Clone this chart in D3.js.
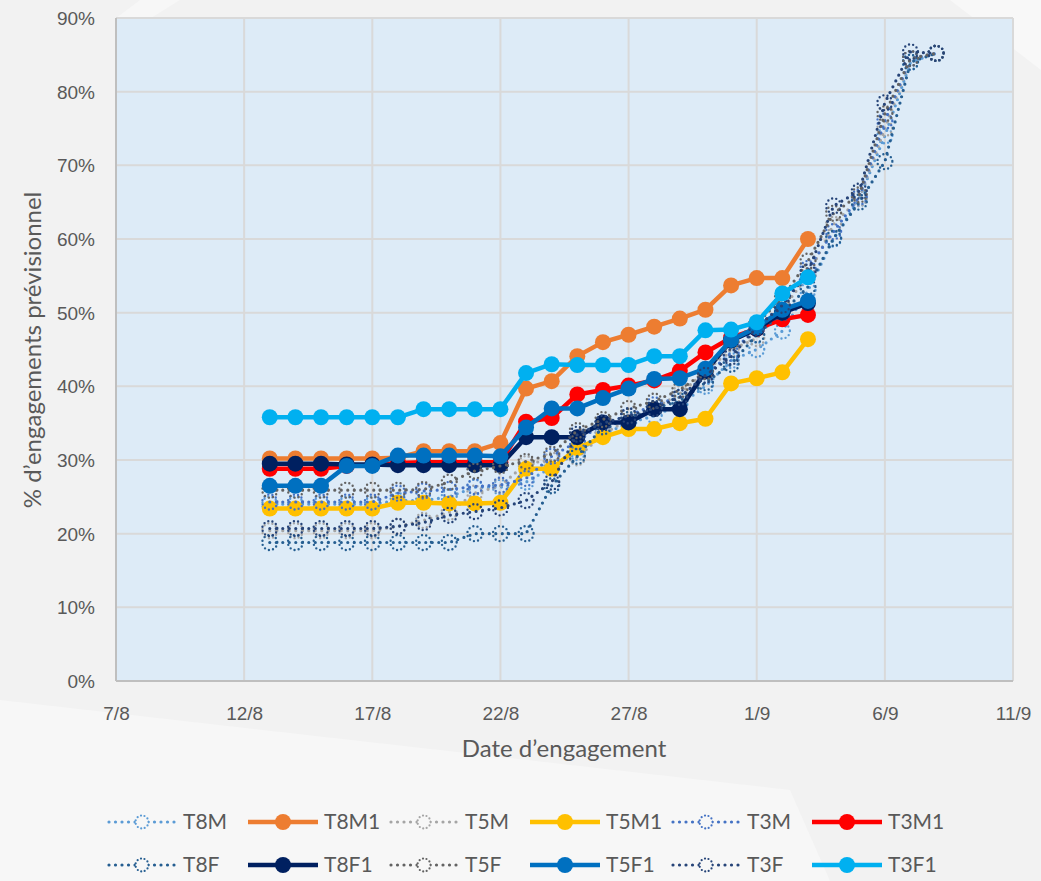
<!DOCTYPE html>
<html><head><meta charset="utf-8">
<script src="https://cdn.jsdelivr.net/npm/d3@7"></script>
<style>
html,body{margin:0;padding:0;background:#F2F2F2;}
svg{display:block;font-family:Lato,"Open Sans",sans-serif;}
</style></head>
<body>
<svg id="chart" width="1041" height="881"></svg>
<script>
// ---- data ----
const solidDates = ["13/8","14/8","15/8","16/8","17/8","18/8","19/8","20/8","21/8","22/8","23/8","24/8","25/8","26/8","27/8","28/8","29/8","30/8","31/8","1/9","2/9","3/9"];
const dottedDates = solidDates.concat(["4/9","5/9","6/9","7/9","8/9"]);
const xTickLabels = ["7/8","12/8","17/8","22/8","27/8","1/9","6/9","11/9"];
const yTickValues = [0,10,20,30,40,50,60,70,80,90];

const T8M  = [24.0,24.0,24.0,24.0,24.0,24.5,24.5,25.0,26.3,26.3,27.0,29.0,31.0,33.5,35.0,36.0,37.5,40.0,43.5,45.0,47.5,53.0,60.0,65.5,74.0,84.0,85.2];
const T8M1 = [30.2,30.2,30.2,30.2,30.2,30.3,31.2,31.2,31.2,32.3,39.7,40.7,44.1,46.0,47.0,48.1,49.2,50.4,53.7,54.7,54.7,60.0];
const T5M  = [20.4,20.4,20.4,20.4,20.4,21.0,21.8,22.9,25.5,26.5,29.5,30.0,30.3,33.5,35.5,37.0,39.0,42.0,45.0,46.5,50.5,55.0,62.0,65.5,75.0,84.5,85.2];
const T5M1 = [23.4,23.4,23.4,23.4,23.4,24.2,24.2,24.1,24.1,24.2,28.8,28.8,31.6,33.1,34.2,34.2,35.0,35.6,40.4,41.1,41.9,46.4];
const T3M  = [24.3,24.3,24.3,24.3,24.3,25.5,25.8,26.0,26.4,26.6,27.5,30.5,32.5,35.0,36.0,37.5,38.5,41.5,44.5,48.0,51.0,56.0,61.0,65.7,76.0,84.5,85.2];
const T3M1 = [28.8,28.8,28.8,29.2,29.3,29.6,29.7,29.7,29.7,29.7,35.2,35.7,38.9,39.5,40.1,40.8,42.1,44.6,46.6,47.8,49.1,49.7];
const T8F  = [18.8,18.8,18.8,18.8,18.8,18.8,18.8,18.8,20.0,20.0,20.0,26.5,30.5,34.5,35.5,37.0,38.0,40.5,43.0,47.0,50.0,53.5,60.1,65.0,70.5,84.0,85.2];
const T8F1 = [29.5,29.5,29.5,29.4,29.4,29.3,29.3,29.3,29.3,29.3,33.1,33.1,33.1,35.1,35.1,36.9,36.9,42.0,46.2,47.8,50.0,51.3];
const T5F  = [25.9,25.9,25.9,25.9,25.9,25.9,26.0,27.0,28.5,29.2,29.8,30.8,34.0,35.5,37.0,38.0,39.5,42.0,46.0,48.5,52.0,57.0,63.5,66.0,77.0,84.5,85.2];
const T5F1 = [26.5,26.5,26.5,29.2,29.2,30.6,30.6,30.6,30.6,30.5,34.4,37.0,37.0,38.4,39.7,41.0,41.1,42.4,46.3,48.0,50.4,51.6];
const T3F  = [20.7,20.7,20.7,20.7,20.7,21.0,21.5,22.5,23.0,23.5,24.5,27.0,33.5,35.0,36.0,37.0,38.5,41.5,44.0,48.0,51.0,55.5,64.5,66.5,78.5,85.4,85.2];
const T3F1 = [35.8,35.8,35.8,35.8,35.8,35.8,36.9,36.9,36.9,36.9,41.8,43.0,42.9,42.9,42.9,44.1,44.1,47.6,47.7,48.7,52.6,54.8];

const seriesNames  = ["T8M","T8M1","T5M","T5M1","T3M","T3M1","T8F","T8F1","T5F","T5F1","T3F","T3F1"];
const seriesValues = [T8M,T8M1,T5M,T5M1,T3M,T3M1,T8F,T8F1,T5F,T5F1,T3F,T3F1];
const seriesColors = ["#5B9BD5","#ED7D31","#A5A5A5","#FFC000","#4472C4","#FF0000","#255E91","#002060","#636363","#0070C0","#264478","#00B0F0"];
const seriesDotted = [true,false,true,false,true,false,true,false,true,false,true,false];

// ---- layout ----
const W = 1041, H = 881;
const plot = {left:116, right:1013, top:18, bottom:681};
const svg = d3.select("#chart");
const parse = s => { const [d,m] = s.split("/").map(Number); return new Date(Date.UTC(2020, m-1, d)); };

// decorative background shapes (subtle)
svg.append("rect").attr("width",W).attr("height",H).attr("fill","#F2F2F2");
svg.append("path").attr("d","M0,700 L790,790 L830,881 L0,881 Z").attr("fill","#F7F7F7");
svg.append("path").attr("d","M950,0 L1041,0 L1041,70 Z").attr("fill","#F8F8F8");
svg.append("path").attr("d","M140,0 L180,0 L116,40 L116,18 Z").attr("fill","#F7F7F7");

const x = d3.scaleUtc().domain([parse("7/8"), parse("11/9")]).range([plot.left, plot.right]);
const y = d3.scaleLinear().domain([0, 90]).range([plot.bottom, plot.top]);

// plot area
svg.append("rect").attr("x",plot.left).attr("y",plot.top)
  .attr("width",plot.right-plot.left).attr("height",plot.bottom-plot.top).attr("fill","#DDEBF7");

// gridlines
const xTicks = xTickLabels.map(parse);
svg.append("g").selectAll("line.v").data(xTicks).join("line")
  .attr("x1",d=>x(d)).attr("x2",d=>x(d)).attr("y1",plot.top).attr("y2",plot.bottom)
  .attr("stroke","#D9D9D9").attr("stroke-width",2);
svg.append("g").selectAll("line.h").data(yTickValues).join("line")
  .attr("x1",plot.left).attr("x2",plot.right).attr("y1",d=>y(d)).attr("y2",d=>y(d))
  .attr("stroke","#D9D9D9").attr("stroke-width",2);
// axis lines
svg.append("line").attr("x1",plot.left).attr("x2",plot.left).attr("y1",plot.top).attr("y2",plot.bottom)
  .attr("stroke","#BFBFBF").attr("stroke-width",2);
svg.append("line").attr("x1",plot.left).attr("x2",plot.right).attr("y1",plot.bottom).attr("y2",plot.bottom)
  .attr("stroke","#BFBFBF").attr("stroke-width",2);

// axes via d3
const yAxis = d3.axisLeft(y).tickValues(yTickValues).tickFormat(d=>d+"%").tickSize(0).tickPadding(21);
const gy = svg.append("g").attr("transform",`translate(${plot.left},0)`).call(yAxis);
gy.select(".domain").remove();
gy.selectAll("text").attr("fill","#595959").style("font-size","19px").attr("dy","0.35em");

const xAxis = d3.axisBottom(x).tickValues(xTicks).tickFormat((d,i)=>xTickLabels[i]).tickSize(0).tickPadding(26);
const gx = svg.append("g").attr("transform",`translate(0,${plot.bottom})`).call(xAxis);
gx.select(".domain").remove();
gx.selectAll("text").attr("fill","#595959").style("font-size","19px");

// axis titles
svg.append("text").attr("x",564).attr("y",757).attr("text-anchor","middle")
  .attr("fill","#595959").style("font-size","24px").text("Date d’engagement");
svg.append("text").attr("transform","translate(41,350) rotate(-90)").attr("text-anchor","middle")
  .attr("fill","#595959").style("font-size","24px").text("% d’engagements prévisionnel");

// series
const line = d3.line().x(d=>x(d.date)).y(d=>y(d.v));
seriesNames.forEach((name,i)=>{
  const dates = seriesDotted[i] ? dottedDates : solidDates;
  const pts = seriesValues[i].map((v,j)=>({date:parse(dates[j]), v}));
  const g = svg.append("g");
  const c = seriesColors[i];
  if (seriesDotted[i]) {
    g.append("path").datum(pts).attr("d",line).attr("fill","none").attr("stroke",c)
      .attr("stroke-width",3.2).attr("stroke-linecap","round").attr("stroke-dasharray","0,6.5");
    g.selectAll("circle").data(pts).join("circle").attr("cx",d=>x(d.date)).attr("cy",d=>y(d.v)).attr("r",7.5)
      .attr("fill","none").attr("stroke",c).attr("stroke-width",2.4).attr("stroke-linecap","round").attr("stroke-dasharray","0,4.2");
  } else {
    g.append("path").datum(pts).attr("d",line).attr("fill","none").attr("stroke",c)
      .attr("stroke-width",4.5).attr("stroke-linejoin","round");
    g.selectAll("circle").data(pts).join("circle").attr("cx",d=>x(d.date)).attr("cy",d=>y(d.v)).attr("r",8)
      .attr("fill",c);
  }
});

// legend
const legend = svg.append("g");
seriesNames.forEach((name,i)=>{
  const col = i % 6, row = Math.floor(i / 6);
  const lx = 107 + col*141, ly = 822 + row*43;
  const g = legend.append("g").attr("transform",`translate(${lx},${ly})`);
  const c = seriesColors[i];
  if (seriesDotted[i]) {
    g.append("line").attr("x1",2).attr("x2",68).attr("y1",0).attr("y2",0).attr("stroke",c)
      .attr("stroke-width",3.2).attr("stroke-linecap","round").attr("stroke-dasharray","0,6.5");
    g.append("circle").attr("cx",35).attr("cy",0).attr("r",6.5).attr("fill","#F7F7F7").attr("stroke",c)
      .attr("stroke-width",2.2).attr("stroke-linecap","round").attr("stroke-dasharray","0,3.6");
  } else {
    g.append("line").attr("x1",0).attr("x2",70).attr("y1",0).attr("y2",0).attr("stroke",c).attr("stroke-width",4.5);
    g.append("circle").attr("cx",35).attr("cy",0).attr("r",8).attr("fill",c);
  }
  g.append("text").attr("x",76).attr("y",0).attr("dy","0.35em").attr("fill","#595959")
    .style("font-size","21px").text(name);
});
</script>
</body></html>
